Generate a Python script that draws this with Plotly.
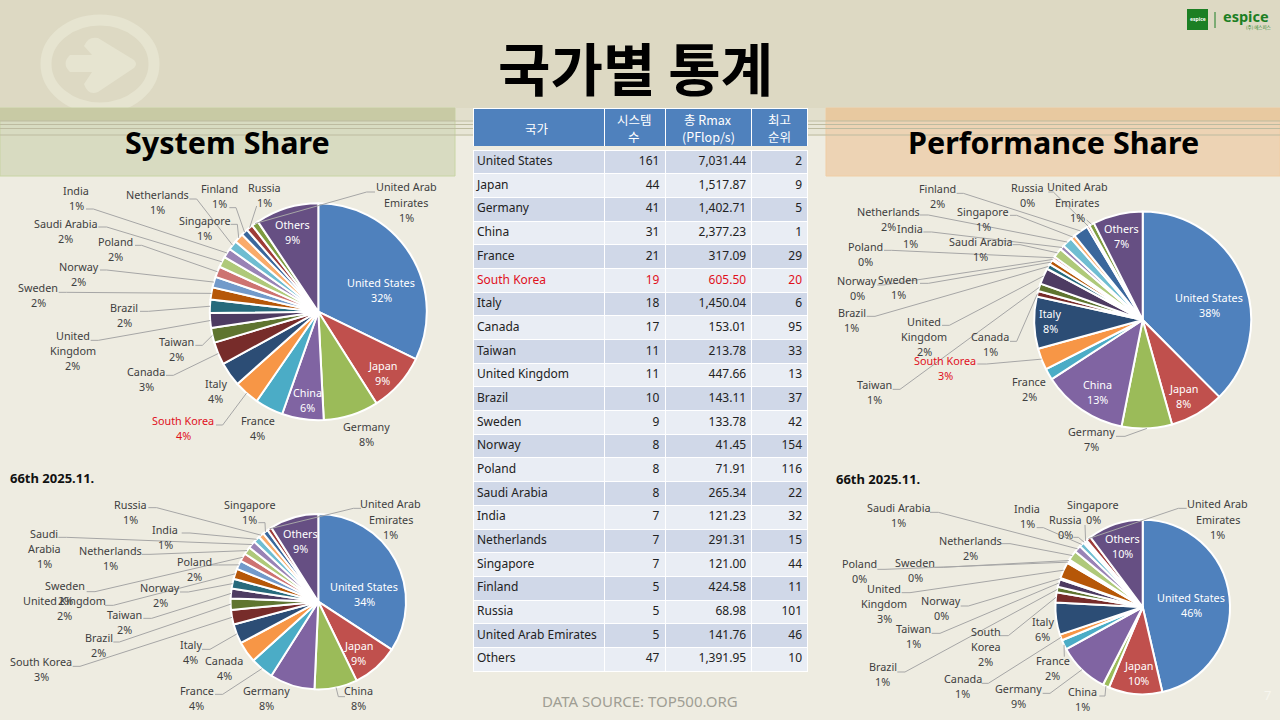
import math
import plotly.graph_objects as go

W, H = 1280, 720

countries = ["United States", "Japan", "Germany", "China", "France", "South Korea", "Italy", "Canada",
             "Taiwan", "United Kingdom", "Brazil", "Sweden", "Norway", "Poland", "Saudi Arabia", "India",
             "Netherlands", "Singapore", "Finland", "Russia", "United Arab Emirates", "Others"]
systems = [161, 44, 41, 31, 21, 19, 18, 17, 11, 11, 10, 9, 8, 8, 8, 7, 7, 7, 5, 5, 5, 47]
rmax = [7031.44, 1517.87, 1402.71, 2377.23, 317.09, 605.50, 1450.04, 153.01, 213.78, 447.66, 143.11,
        133.78, 41.45, 71.91, 265.34, 121.23, 291.31, 121.00, 424.58, 68.98, 141.76, 1391.95]
best_rank = [2, 9, 5, 1, 29, 20, 6, 95, 33, 13, 37, 42, 154, 116, 22, 32, 15, 44, 11, 101, 46, 10]

prev_countries_sys = ["United States", "Japan", "China", "Germany", "France", "Canada", "Italy", "South Korea",
                      "Brazil", "Taiwan", "Norway", "United Kingdom", "Poland", "Sweden", "Netherlands",
                      "Saudi Arabia", "India", "Russia", "Singapore", "United Arab Emirates", "Others"]
prev_sys = [34.2, 8.6, 7.9, 8.3, 4.3, 3.9, 3.6, 2.7, 2.1, 1.8, 1.8, 1.9, 1.6, 1.5, 1.4, 1.4, 1.2, 1.0, 1.0, 0.8, 9.0]

prev_countries_perf = ["United States", "Japan", "China", "Germany", "France", "Canada", "Italy", "South Korea",
                       "Brazil", "Taiwan", "Norway", "United Kingdom", "Poland", "Sweden", "Netherlands",
                       "Saudi Arabia", "India", "Russia", "Singapore", "United Arab Emirates", "Others"]
prev_perf = [46.2, 9.9, 1.2, 9.4, 1.8, 1.1, 5.9, 1.9, 1.0, 1.4, 0.3, 3.0, 0.3, 0.4, 1.8, 1.3, 0.9, 0.3, 0.4, 0.9, 10.2]

palette = ["#4F81BD", "#C0504D", "#9BBB59", "#8064A2", "#4BACC6", "#F79646", "#2C4D75", "#772C2A",
           "#5F7530", "#4D3B62", "#276A7C", "#B65708", "#729ACA", "#CD7371", "#AFC97A", "#9983B5",
           "#6FBDD1", "#F9AB6B", "#3A679C", "#9E3B38", "#7E9C40", "#664F83"]
palette_prev = palette[:20] + ["#664F83"]

FONT = "Noto Sans, Noto Sans CJK KR, sans-serif"
KFONT = "Noto Sans CJK KR, Noto Sans, sans-serif"
LABEL = "#404040"
LEAD = "#A6A6A6"
RED = "#E0101C"


def px(x):
    return x / W


def py(y):
    return 1 - y / H


# placement of labels, in crop coordinates: name -> (text centre x, y, wrapped name, white?, stub)
place_tl = {
    "United States": (1143, 362, None, 1, None), "Japan": (1148, 612, None, 1, None),
    "Germany": (1100, 794, None, 0, None), "China": (921, 692, None, 1, None),
    "France": (773, 776, None, 0, None), "South Korea": (549, 776, None, 0, (648, 765, 668, 765)),
    "Italy": (647, 665, None, 0, None), "Canada": (438, 630, None, 0, (498, 616, 520, 616)),
    "Taiwan": (528, 539, None, 0, (586, 526, 607, 526)),
    "United Kingdom": (218, 543, "United<br>Kingdom", 0, (272, 511, 295, 511)),
    "Brazil": (372, 437, None, 0, (420, 424, 445, 424)), "Sweden": (114, 377, None, 0, (176, 367, 200, 367)),
    "Norway": (236, 314, None, 0, (300, 300, 320, 300)), "Poland": (345, 239, None, 0, (405, 226, 425, 226)),
    "Saudi Arabia": (197, 185, None, 0, (295, 171, 320, 171)), "India": (228, 86, None, 0, (258, 117, 280, 117)),
    "Netherlands": (472, 100, None, 0, (568, 87, 590, 87)), "Singapore": (614, 176, None, 0, (692, 163, 712, 163)),
    "Finland": (657, 80, None, 0, (688, 113, 708, 113)), "Russia": (792, 77, None, 0, (770, 108, 770, 108)),
    "United Arab Emirates": (1218, 99, "United Arab<br>Emirates", 0, (1125, 66, 1100, 66)),
    "Others": (876, 188, None, 1, None),
}
place_tr = {
    "United States": (1167, 407, None, 1, None), "Japan": (1091, 680, None, 1, None),
    "Germany": (815, 810, None, 0, (888, 799, 915, 799)), "China": (832, 668, None, 1, None),
    "France": (627, 660, None, 0, None), "South Korea": (375, 596, None, 0, (472, 582, 500, 582)),
    "Italy": (690, 455, None, 1, None), "Canada": (510, 524, None, 0, (570, 514, 590, 514)),
    "Taiwan": (162, 668, None, 0, (218, 658, 240, 658)),
    "United Kingdom": (312, 501, "United<br>Kingdom", 0, (366, 466, 388, 466)),
    "Brazil": (95, 452, None, 0, (140, 439, 165, 439)), "Sweden": (235, 353, None, 0, (300, 340, 325, 340)),
    "Norway": (112, 358, None, 0, (172, 345, 190, 345)), "Poland": (135, 254, None, 0, (192, 241, 215, 241)),
    "Saudi Arabia": (482, 239, None, 0, (578, 224, 600, 224)), "India": (270, 200, None, 0, (310, 186, 335, 186)),
    "Netherlands": (206, 149, None, 0, (300, 135, 325, 135)), "Singapore": (490, 149, None, 0, (570, 136, 590, 136)),
    "Finland": (351, 80, None, 0, (410, 70, 430, 70)), "Russia": (623, 77, None, 0, (685, 66, 700, 66)),
    "United Arab Emirates": (771, 99, "United Arab<br>Emirates", 0, (800, 150, 800, 150)),
    "Others": (905, 200, None, 1, None),
}
place_bl = {
    "United States": (1093, 404, None, 1, None), "Japan": (1076, 581, None, 1, None),
    "China": (1076, 718, None, 0, (1035, 710, 1015, 710)), "Germany": (798, 718, None, 0, None),
    "France": (590, 716, None, 0, (645, 703, 668, 703)), "Canada": (673, 626, None, 0, None),
    "Italy": (572, 578, None, 0, (606, 568, 630, 568)), "South Korea": (124, 629, None, 0, (218, 619, 240, 619)),
    "Brazil": (296, 559, None, 0, (340, 546, 358, 546)), "Taiwan": (374, 488, None, 0, (430, 475, 455, 475)),
    "Norway": (481, 407, None, 0, (540, 396, 565, 396)), "United Kingdom": (194, 446, None, 0, (315, 436, 340, 436)),
    "Poland": (582, 329, None, 0, (635, 315, 655, 315)), "Sweden": (196, 403, None, 0, (260, 395, 285, 395)),
    "Netherlands": (331, 296, None, 0, (425, 283, 450, 283)),
    "Saudi Arabia": (133, 268, "Saudi<br>Arabia", 0, (175, 232, 200, 232)),
    "India": (495, 233, None, 0, (545, 219, 570, 219)), "Russia": (392, 158, None, 0, (445, 143, 470, 143)),
    "Singapore": (749, 158, None, 0, (775, 188, 795, 188)),
    "United Arab Emirates": (1172, 180, "United Arab<br>Emirates", 0, (1083, 145, 1060, 145)),
    "Others": (900, 245, None, 1, None),
}
place_br = {
    "United States": (1114, 437, None, 1, None), "Japan": (954, 641, None, 1, None),
    "China": (788, 719, None, 0, (838, 708, 855, 708)), "Germany": (595, 710, None, 0, (668, 700, 690, 700)),
    "France": (698, 626, None, 0, (733, 590, 733, 590)), "Canada": (428, 680, None, 0, (485, 670, 505, 670)),
    "Italy": (668, 510, None, 0, None), "South Korea": (497, 561, "South<br>Korea", 0, (540, 527, 565, 527)),
    "Brazil": (188, 646, None, 0, (232, 636, 255, 636)), "Taiwan": (281, 530, None, 0, (335, 520, 360, 520)),
    "Norway": (364, 448, None, 0, (422, 438, 445, 438)),
    "United Kingdom": (192, 432, "United<br>Kingdom", 0, (245, 398, 270, 398)),
    "Poland": (118, 337, None, 0, (172, 328, 195, 328)), "Sweden": (285, 332, None, 0, (345, 322, 370, 322)),
    "Netherlands": (451, 266, None, 0, (543, 251, 570, 251)), "Saudi Arabia": (236, 168, None, 0, (330, 157, 355, 157)),
    "India": (621, 170, None, 0, (650, 203, 670, 203)), "Russia": (737, 203, None, 0, (760, 232, 775, 232)),
    "Singapore": (820, 158, None, 0, (795, 195, 795, 195)),
    "United Arab Emirates": (1193, 180, "United Arab<br>Emirates", 0, (1100, 145, 1075, 145)),
    "Others": (908, 262, None, 1, None),
}

pies = [
    (countries, systems, palette, 318.3, 311.7, 108.5, (0, 170), place_tl, {"South Korea"}),
    (countries, rmax, palette, 1142.7, 320.0, 108.5, (820, 170), place_tr, {"South Korea"}),
    (prev_countries_sys, prev_sys, palette_prev, 318.3, 601.7, 87.7, (0, 460), place_bl, set()),
    (prev_countries_perf, prev_perf, palette_prev, 1142.7, 607.0, 87.3, (820, 460), place_br, set()),
]

fig = go.Figure()
shapes = []
annotations = []


def rect(x0, y0, x1, y1, fill, line=None, layer="below"):
    shapes.append(dict(type="rect", xref="paper", yref="paper", x0=px(x0), x1=px(x1), y0=py(y0), y1=py(y1),
                       fillcolor=fill, line=dict(color=line or fill, width=1 if line else 0), layer=layer))


def text(x, y, s, size, color, bold=False, font=FONT, xanchor="center"):
    if bold:
        s = "<b>" + s + "</b>"
    annotations.append(dict(xref="paper", yref="paper", x=px(x), y=py(y), text=s, showarrow=False,
                            xanchor=xanchor, yanchor="middle", align="center",
                            font=dict(family=font, size=size, color=color)))


def svg_path(cmds):
    out = []
    for c in cmds:
        op, nums = c[0], c[1:]
        pts = ["%f %f" % (px(nums[i]), py(nums[i + 1])) for i in range(0, len(nums), 2)]
        out.append(op + " " + " ".join(pts))
    return " ".join(out) + " Z"


# slide background
rect(0, 0, W, H, "#EEECE1")
rect(0, 0, W, 108, "#DDD9C3")
rect(0, 108, W, 120, "#E2DFCC")
rect(0, 120, W, 136, "#E8E6D6")

# watermark ring and arrow
shapes.append(dict(type="circle", xref="paper", yref="paper", x0=px(46), x1=px(154), y0=py(20), y1=py(108),
                   fillcolor="#DDD9C3", line=dict(color="#E6E4D0", width=11), layer="below"))
shapes.append(dict(type="path", xref="paper", yref="paper", layer="below", fillcolor="#E6E4D0",
                   line=dict(color="#E6E4D0", width=0),
                   path=svg_path([("M", 70, 55), ("L", 92, 55), ("L", 84, 46), ("Q", 88, 36, 98, 38), ("L", 134, 60),
                                  ("Q", 138, 64, 134, 68), ("L", 98, 92), ("Q", 88, 96, 84, 84), ("L", 92, 72),
                                  ("L", 70, 72), ("Q", 61, 63.5, 70, 55)])))

# section boxes
rect(0, 108, 455, 176, "#D8DBC1", "#C8D4A4")
rect(0, 108, 455, 121, "#C8CAA4")
rect(826, 108, W, 176, "#EDD3B4", "#F0CDA4")
rect(826, 108, W, 121, "#E8C9A0")

# header stripes
for yy in (121, 124.5, 128.5, 135):
    shapes.append(dict(type="line", xref="paper", yref="paper", x0=0, x1=1, y0=py(yy), y1=py(yy),
                       line=dict(color="#BDBBA0", width=1), layer="below"))

text(635, 66, "국가별 통계", 57, "#000000", True, KFONT)
text(227, 142, "System Share", 30.5, "#000000", True)
text(1053, 142, "Performance Share", 30.5, "#000000", True)
text(8, 478, "66th 2025.11.", 13, "#111111", True, xanchor="left")
text(834, 479, "66th 2025.11.", 13, "#111111", True, xanchor="left")
text(640, 701, "DATA SOURCE: TOP500.ORG", 15, "#A09E94")
text(1267, 695, "7", 13, "#F7F6EF")

# logo
rect(1187, 9, 1208, 30, "#1C7F24", layer="above")
text(1197.5, 19, "espice", 5, "#FFFFFF", True)
shapes.append(dict(type="line", xref="paper", yref="paper", x0=px(1215), x1=px(1215), y0=py(12), y1=py(28),
                   line=dict(color="#1C7F24", width=1)))
text(1246, 16, "espice", 14.5, "#1C7F24", True)
text(1258, 28, "(주) 에스피스", 4.5, "#1C7F24", font=KFONT)

LINE_H = 15
for names, vals, cols, cx, cy, R, off, place, reds in pies:
    total = sum(vals)
    fig.add_trace(go.Pie(labels=names, values=vals, sort=False, direction="clockwise", rotation=0,
                         textinfo="none", showlegend=False, marker=dict(colors=cols, line=dict(color="#FFFFFF", width=2)),
                         domain=dict(x=[px(cx - R), px(cx + R)], y=[py(cy + R), py(cy - R)])))
    acc = 0.0
    for name, v in zip(names, vals):
        mid = (acc + v / 2) / total * 2 * math.pi
        acc += v
        zx, zy, wrapped, white, stub = place[name]
        lx, ly = off[0] + zx / 3, off[1] + zy / 3 - 1
        color = "#FFFFFF" if white else (RED if name in reds else LABEL)
        lines = (wrapped or name).split("<br>") + ["%d%%" % round(v / total * 100)]
        for i, ln in enumerate(lines):
            text(lx, ly + (i - (len(lines) - 1) / 2) * LINE_H, ln, 10.8, color)
        if stub:
            ex, ey = cx + R * math.sin(mid), cy - R * math.cos(mid)
            a = (off[0] + stub[0] / 3, off[1] + stub[1] / 3)
            b = (off[0] + stub[2] / 3, off[1] + stub[3] / 3)
            shapes.append(dict(type="path", xref="paper", yref="paper", line=dict(color=LEAD, width=1),
                               path="M %f %f L %f %f L %f %f" % (px(a[0]), py(a[1]), px(b[0]), py(b[1]), px(ex), py(ey))))

# table: one table paints the cells, a second one on top carries the text
fill_bounds = [473, 604, 665, 751, 807]
text_bounds = [469, 600, 668, 755, 811]
T_TOP, T_BOTTOM = 150, 671
ROW_H = (T_BOTTOM - T_TOP) / len(countries)


def widths(b):
    return [b[i + 1] - b[i] for i in range(len(b) - 1)]


row_fill = ["#D0D8E8" if i % 2 == 0 else "#E9EDF4" for i in range(len(countries))]
font_col = [RED if c == "South Korea" else "#222222" for c in countries]
blank = [""] * len(countries)
no_header = dict(values=["", "", "", ""], height=0.1, line=dict(width=0), fill=dict(color="rgba(0,0,0,0)"), font=dict(size=1))
fig.add_trace(go.Table(
    domain=dict(x=[px(fill_bounds[0]), px(fill_bounds[-1])], y=[py(T_BOTTOM + 2), py(T_TOP)]),
    columnwidth=widths(fill_bounds), header=no_header,
    cells=dict(values=[blank] * 4, height=ROW_H, line=dict(color="#FFFFFF", width=1),
               fill=dict(color=[row_fill] * 4), font=dict(size=1))))
fig.add_trace(go.Table(
    domain=dict(x=[px(text_bounds[0]), px(text_bounds[-1])], y=[py(T_BOTTOM + 2), py(T_TOP - 2)]),
    columnwidth=widths(text_bounds), header=no_header,
    cells=dict(values=[[c.replace(" ", "\u00a0") for c in countries], systems,
                       ["{:,.2f}".format(v) for v in rmax], best_rank],
               align=["left", "right", "right", "right"], height=ROW_H,
               line=dict(color="rgba(0,0,0,0)", width=0), fill=dict(color="rgba(0,0,0,0)"),
               font=dict(family=FONT, size=12, color=[font_col] * 4))))
fig.add_trace(go.Table(
    domain=dict(x=[px(fill_bounds[0]), px(fill_bounds[-1])], y=[py(147), py(108)]),
    columnwidth=widths(fill_bounds),
    header=dict(values=["", "", "", ""], height=38, line=dict(color="#FFFFFF", width=1), fill=dict(color="#4F81BD"),
                font=dict(size=1)),
    cells=dict(values=[[], [], [], []], height=1)))
header_lines = [(537, ["국가"]), (634, ["시스템", "수"]), (708, ["총 Rmax", "(PFlop/s)"]), (779, ["최고", "순위"])]
for hx, lines in header_lines:
    for i, ln in enumerate(lines):
        text(hx, 128 + (i - (len(lines) - 1) / 2) * 16, ln, 12.5, "#FFFFFF", font=KFONT)

fig.update_layout(width=W, height=H, margin=dict(l=0, r=0, t=0, b=0), paper_bgcolor="#EEECE1",
                  shapes=shapes, annotations=annotations, showlegend=False)
fig.write_html("out.html", config=dict(displayModeBar=False),
               post_script="document.body.style.margin='0';document.body.style.overflow='hidden';")
